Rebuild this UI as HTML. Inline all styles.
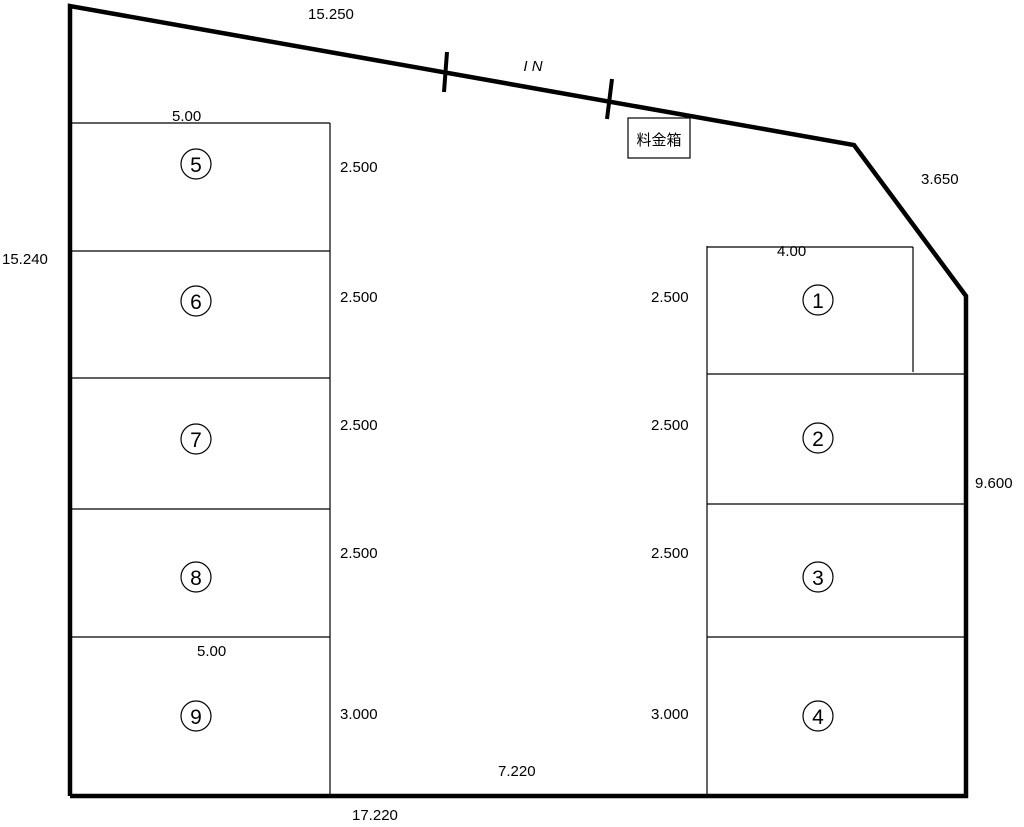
<!DOCTYPE html>
<html><head><meta charset="utf-8"><style>
html,body{margin:0;padding:0;background:#fff;}
svg{display:block;}
text{font-family:"Liberation Sans","Noto Sans CJK JP",sans-serif;font-size:15px;fill:#000;}
text.d{font-size:21px;}
</style></head><body>
<svg width="1024" height="827" viewBox="0 0 1024 827" xmlns="http://www.w3.org/2000/svg">
<g fill="none" stroke="#000">
<polyline points="70,796 70,6 854,145 966,296 966,796 70,796" stroke-width="4.5" stroke-linejoin="miter"/>
<line x1="447" y1="52" x2="444" y2="92" stroke-width="4"/>
<line x1="612" y1="79" x2="607" y2="119" stroke-width="4"/>
<g stroke-width="1.2">
<line x1="72" y1="123" x2="330" y2="123"/>
<line x1="72" y1="251" x2="330" y2="251"/>
<line x1="72" y1="378" x2="330" y2="378"/>
<line x1="72" y1="509" x2="330" y2="509"/>
<line x1="72" y1="637" x2="330" y2="637"/>
<line x1="330" y1="123" x2="330" y2="795"/>
<line x1="707" y1="247" x2="913" y2="247"/>
<line x1="913" y1="247" x2="913" y2="372"/>
<line x1="707" y1="374" x2="964" y2="374"/>
<line x1="707" y1="504" x2="964" y2="504"/>
<line x1="707" y1="637" x2="964" y2="637"/>
<line x1="707" y1="246" x2="707" y2="795"/>
<rect x="628" y="118" width="62" height="40"/>
<circle cx="196" cy="164" r="15"/>
<circle cx="196" cy="301" r="15"/>
<circle cx="196" cy="439" r="15"/>
<circle cx="196" cy="577" r="15"/>
<circle cx="196" cy="716" r="15"/>
<circle cx="818" cy="300" r="15"/>
<circle cx="818" cy="438" r="15"/>
<circle cx="818" cy="577" r="15"/>
<circle cx="818" cy="716" r="15"/>
</g>
</g>
<g text-anchor="middle">
<text class="d" x="196" y="172">5</text>
<text class="d" x="196" y="309">6</text>
<text class="d" x="196" y="447">7</text>
<text class="d" x="196" y="585">8</text>
<text class="d" x="196" y="724">9</text>
<text class="d" x="818" y="308">1</text>
<text class="d" x="818" y="446">2</text>
<text class="d" x="818" y="585">3</text>
<text class="d" x="818" y="724">4</text>
</g>
<text x="659" y="145" text-anchor="middle">料金箱</text>
<text x="533" y="71" text-anchor="middle" style="font-style:italic">I N</text>
<text x="308" y="19">15.250</text>
<text x="2" y="264">15.240</text>
<text x="921" y="184">3.650</text>
<text x="975" y="488">9.600</text>
<text x="352" y="820">17.220</text>
<text x="498" y="776">7.220</text>
<text x="172" y="121">5.00</text>
<text x="197" y="656">5.00</text>
<text x="777" y="256">4.00</text>
<text x="340" y="172">2.500</text>
<text x="340" y="302">2.500</text>
<text x="340" y="430">2.500</text>
<text x="340" y="558">2.500</text>
<text x="340" y="719">3.000</text>
<text x="651" y="302">2.500</text>
<text x="651" y="430">2.500</text>
<text x="651" y="558">2.500</text>
<text x="651" y="719">3.000</text>
</svg>
</body></html>
